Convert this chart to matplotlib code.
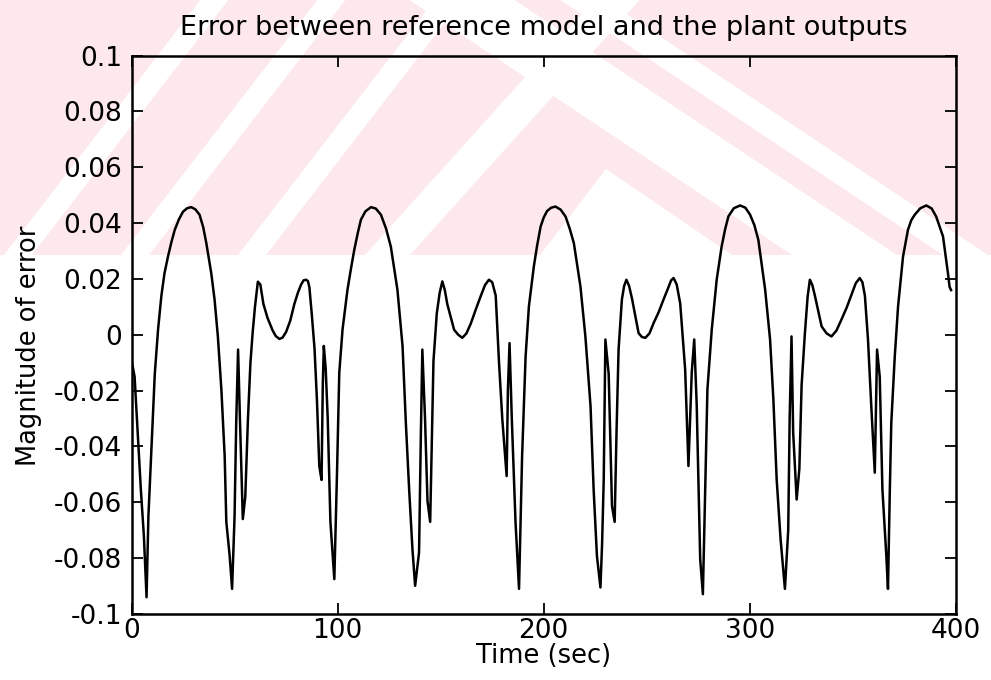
import numpy as np
import matplotlib
matplotlib.use("Agg")
import matplotlib.pyplot as plt
from matplotlib.patches import Polygon

# ---------------- data ----------------
time_p1 = [0, 1.5, 3, 4.5, 6, 7.3, 8.2, 9.7, 11.3, 12.9, 14.5, 16, 17.7, 19.3, 21, 23,
           25, 27, 29, 31, 33, 34.8, 36.3, 38.7, 40.3, 41.9, 43.6, 45.2, 46, 47.6,
           48.8, 50, 50.8, 51.7, 52.6, 54, 55.2, 56.5, 57.7, 58.8, 59.9, 61.3, 62.5,
           64, 66, 68.5, 70, 71.8, 73.3, 75, 77, 79, 80.7, 82.3, 83.5, 84.7, 85.6,
           86.3, 87.5, 88.8, 90, 91.1, 92.2, 92.8, 93.3, 94.2, 95.2, 96.5, 98.4]
err_p1 = [-0.009, -0.015, -0.035, -0.055, -0.072, -0.094, -0.065, -0.040, -0.014,
          0.002, 0.014, 0.022, 0.028, 0.033, 0.0376, 0.0413, 0.0441, 0.0453, 0.0457,
          0.0449, 0.043, 0.0385, 0.0328, 0.022, 0.0126, -0.0006, -0.0196, -0.0434,
          -0.067, -0.079, -0.091, -0.065, -0.0315, -0.0053, -0.030, -0.066, -0.058,
          -0.030, -0.010, 0.001, 0.010, 0.019, 0.018, 0.011, 0.006, 0.0015, -0.0005,
          -0.0015, -0.001, 0.001, 0.005, 0.011, 0.015, 0.018, 0.0195, 0.0197, 0.0192,
          0.017, 0.007, -0.005, -0.024, -0.047, -0.052, -0.018, -0.004, -0.012,
          -0.030, -0.067, -0.0875]

time_p2 = [99.7, 100.8, 102.4, 104.8, 106.5, 108.1, 109.8, 111.3, 113.5, 116.2, 118.5,
           121, 123.5, 125.8, 129, 131.5, 133.1, 134.7, 136.3, 137.6, 139.5, 140.4,
           141.1, 142.4, 143.6, 144.9, 145.5, 146.5, 148.1, 149.5, 150.8, 152, 153.2,
           156.5, 158.5, 160.5, 162.5, 164.6, 167, 169.4, 171.5, 173.4, 175, 176.7,
           178.3, 179.9, 182, 182.6, 183.4, 184.5, 186.3, 188]
err_p2 = [-0.0494, -0.0136, 0.002, 0.0162, 0.0238, 0.0305, 0.0365, 0.0412, 0.0442,
          0.0457, 0.0452, 0.043, 0.038, 0.0316, 0.0162, -0.0041, -0.0316, -0.0554,
          -0.0768, -0.0899, -0.078, -0.035, -0.0053, -0.030, -0.0596, -0.067, -0.045,
          -0.0094, 0.0076, 0.015, 0.0191, 0.016, 0.011, 0.0018, 0.0, -0.0011, 0.0005,
          0.004, 0.009, 0.0138, 0.0178, 0.0197, 0.0188, 0.014, -0.010, -0.0303,
          -0.0506, -0.020, -0.003, -0.030, -0.067, -0.091]

time_p3 = [189.5, 191.2, 192.8, 195.2, 196.8, 198.5, 200, 201.6, 203.6, 205.7, 208.2,
           210.6, 212.6, 214.6, 217.8, 220.2, 222.7, 224.2, 225.8, 227.5, 228.3,
           229.1, 229.9, 231.5, 233.1, 234.4, 235.3, 236.3, 237.9, 239, 240.1, 241.4,
           242.8, 246, 247.6, 249.3, 251.3, 253.3, 255.7, 258.1, 260.5, 261.8, 263,
           264.5, 266.2, 268.6, 270.2, 271.8, 273, 274.2, 275.9, 277.2]
err_p3 = [-0.0434, -0.0077, 0.0102, 0.0245, 0.032, 0.0388, 0.042, 0.0443, 0.0455,
          0.0459, 0.0448, 0.0423, 0.038, 0.0328, 0.0173, -0.0006, -0.0256, -0.0554,
          -0.0792, -0.0905, -0.075, -0.0518, -0.0017, -0.014, -0.0613, -0.067, -0.035,
          -0.0053, 0.0126, 0.0175, 0.0197, 0.0175, 0.013, 0.0006, -0.0008, -0.0011,
          0.0005, 0.0042, 0.008, 0.0126, 0.017, 0.0195, 0.0203, 0.018, 0.0112,
          -0.0124, -0.047, -0.0135, -0.0017, -0.025, -0.0804, -0.0929]

time_p4 = [278.3, 279.4, 281.5, 283.9, 286.3, 288, 289.6, 292.2, 295.3, 297.8, 300.1,
           302.2, 304.1, 307.4, 309.8, 311.4, 313, 314.9, 317, 318.6, 319.3, 320.2,
           321, 322.7, 324, 325.1, 326.7, 328, 329.1, 330.3, 331.6, 334.8, 337.2,
           339.6, 342, 344.4, 347, 349.3, 351.4, 353.3, 354.6, 355.8, 357.3, 358.9,
           360.6, 361.7, 363, 364.3, 366.2, 367]
err_p4 = [-0.0554, -0.0196, 0.0018, 0.0197, 0.0316, 0.0378, 0.0424, 0.0453, 0.0463,
          0.0455, 0.043, 0.0392, 0.034, 0.0162, -0.0017, -0.0232, -0.0518, -0.0732,
          -0.091, -0.070, -0.030, -0.0006, -0.035, -0.059, -0.048, -0.018, 0.0006,
          0.0135, 0.0197, 0.0178, 0.0138, 0.003, 0.0005, -0.0006, 0.0015, 0.0054,
          0.0098, 0.0144, 0.0185, 0.0203, 0.0188, 0.014, -0.0017, -0.0256, -0.0494,
          -0.0053, -0.015, -0.0554, -0.0792, -0.091]

time_p5 = [367.9, 368.6, 370.3, 371.9, 374.3, 376.7, 378.3, 380, 382.7, 385.6, 388.2,
           390.4, 393.7, 396.1, 396.9, 397.6]
err_p5 = [-0.0554, -0.0316, -0.0077, 0.0102, 0.028, 0.0376, 0.041, 0.043, 0.0453,
          0.0463, 0.0452, 0.0423, 0.0352, 0.022, 0.0171, 0.016]

x_ticks = [0, 100, 200, 300, 400]
y_ticks = [-0.1, -0.08, -0.06, -0.04, -0.02, 0, 0.02, 0.04, 0.06, 0.08, 0.1]
y_tick_labels = ["-0.1", "-0.08", "-0.06", "-0.04", "-0.02", "0",
                 "0.02", "0.04", "0.06", "0.08", "0.1"]

title_text = "Error between reference model and the plant outputs"
x_label = "Time (sec)"
y_label = "Magnitude of error"

time = time_p1 + time_p2 + time_p3 + time_p4 + time_p5
err = err_p1 + err_p2 + err_p3 + err_p4 + err_p5

# ---------------- figure ----------------
plt.rcParams['font.family'] = ['DejaVu Sans']
W, H = 991, 680
fig = plt.figure(figsize=(W / 100, H / 100), dpi=100, facecolor="white")

# faint watermark in the upper band (background decoration, pixel coords)
PINK = "#fde8ec"


def px(points):
    return [(x / W, 1 - y / H) for x, y in points]


def patch(points, color, z):
    fig.add_artist(Polygon(px(points), closed=True, transform=fig.transFigure,
                           facecolor=color, edgecolor="none", zorder=z))


B = 255  # bottom of the watermark band (pixels from the top)
patch([(0, 0), (W, 0), (W, B), (0, B)], PINK, -10)


def slash(x_bottom, width, k):
    """white stripe leaning '/' : x grows by k per pixel going up"""
    patch([(x_bottom, B), (x_bottom + width, B),
           (x_bottom + width + k * B, 0), (x_bottom + k * B, 0)], "white", -9)


def backslash(x_bottom, width, k):
    """white stripe leaning '\\' : x shrinks by k per pixel going up"""
    patch([(x_bottom, B), (x_bottom + width, B),
           (x_bottom + width - k * B, 0), (x_bottom - k * B, 0)], "white", -9)


for xb in [4, 121, 238]:
    slash(xb, 28, 0.77)
slash(365, 45, 0.9)
backslash(792, 105, 1.5)
backslash(943, 45, 1.5)
# white chevron in the middle
patch([(540, B), (606, 169), (732, B)], "white", -9)

ax = fig.add_axes([131.5 / W, 1 - 614 / H, (956 - 131.5) / W, (614 - 55.5) / H])
ax.set_facecolor("none")

ax.plot(time, err, color="black", linewidth=1.8)

ax.set_xlim(0, 400)
ax.set_ylim(-0.1, 0.1)
ax.set_xticks(x_ticks)
ax.set_xticklabels([str(v) for v in x_ticks])
ax.set_yticks(y_ticks)
ax.set_yticklabels(y_tick_labels)
ax.tick_params(direction="in", length=8, width=1.3, top=True, right=True,
               labelsize=19, colors="black")
ax.tick_params(axis="y", pad=7)
ax.tick_params(axis="x", pad=3)
for s in ax.spines.values():
    s.set_linewidth(1.8)
    s.set_color("black")

ax.set_title(title_text, fontsize=19.5, pad=15)
ax.set_xlabel(x_label, fontsize=18.5, labelpad=-1)
ax.set_ylabel(y_label, fontsize=18.5)
ax.yaxis.set_label_coords(-0.108, 0.48)

fig.savefig("out.png", dpi=100, facecolor="white")
